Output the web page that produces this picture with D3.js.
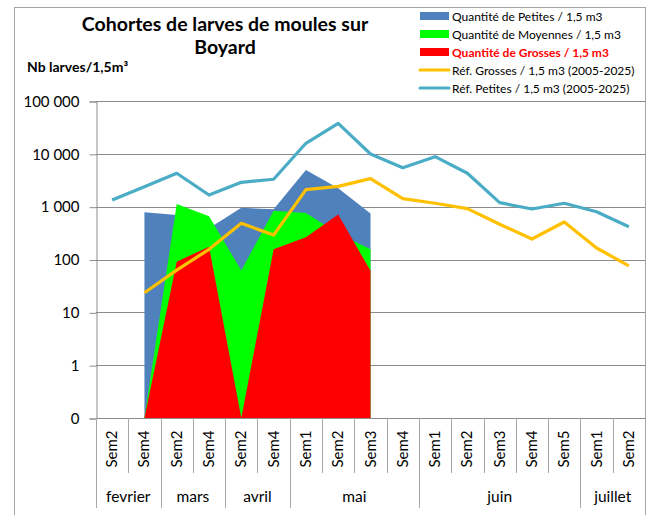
<!DOCTYPE html>
<html>
<head>
<meta charset="utf-8">
<script src="https://cdn.jsdelivr.net/npm/d3@7"></script>
<style>
  body { margin: 0; background: #fff; }
  svg { display: block; font-family: Lato, "Open Sans", sans-serif; }
</style>
</head>
<body>
<svg id="chart"></svg>
<script>
// semaines (categories) et mois
const weeks = ["Sem2","Sem4","Sem2","Sem4","Sem2","Sem4","Sem1","Sem2","Sem3","Sem4",
               "Sem1","Sem2","Sem3","Sem4","Sem5","Sem1","Sem2"];
const months = ["fevrier","mars","avril","mai","juin","juillet"];
const monthSpans = [2, 2, 2, 4, 5, 2];

// valeurs (null = pas de donnee)
const petites    = [null, 782, 697, 389, 950, 890, 4940, 2230, 740, null, null, null, null, null, null, null, null];
const moyennes   = [null, 0, 1125, 660, 62, 840, 760, 310, 156, null, null, null, null, null, null, null, null];
const grosses    = [null, 0, 91, 175, 0, 156, 265, 710, 61, null, null, null, null, null, null, null, null];
const refGrosses = [null, 23.5, 63, 156, 484, 290, 2100, 2420, 3400, 1415, 1160, 916, 465, 244, 513, 165, 76];
const refPetites = [1340, 2390, 4290, 1660, 2890, 3300, 15850, 37800, 9930, 5470, 8830, 4290, 1190, 904, 1160, 803, 418];

const yTicks = [0.1, 1, 10, 100, 1000, 10000, 100000];

const series = [
  {name: "Quantité de Petites / 1,5 m3", values: petites, color: "#4F81BD", type: "area"},
  {name: "Quantité de Moyennes / 1,5 m3", values: moyennes, color: "#00FF00", type: "area"},
  {name: "Quantité de Grosses / 1,5 m3", values: grosses, color: "#FF0000", type: "area", bold: true},
  {name: "Réf. Grosses / 1,5 m3 (2005-2025)", values: refGrosses, color: "#FFC000", type: "line"},
  {name: "Réf. Petites / 1,5 m3 (2005-2025)", values: refPetites, color: "#4BACC6", type: "line"}
];

const width = 651, height = 515;
const plotL = 96, plotR = 645, plotT = 101, plotB = 418;

const svg = d3.select("#chart").attr("width", width).attr("height", height);

// cadre exterieur
svg.append("rect")
   .attr("x", 14.5).attr("y", 7.5).attr("width", 631).attr("height", 520)
   .attr("fill", "none").attr("stroke", "#a6a6a6");

const x = d3.scaleBand().domain(d3.range(weeks.length)).range([plotL, plotR]);
const y = d3.scaleLog().domain([0.1, 100000]).range([plotB, plotT]);
const yv = v => y(Math.max(v, 0.1));
const cx = i => x(i) + x.bandwidth() / 2;

// grille
svg.append("g").selectAll("line")
   .data(yTicks).enter().append("line")
   .attr("x1", plotL).attr("x2", plotR)
   .attr("y1", d => Math.round(y(d)) + 0.5).attr("y2", d => Math.round(y(d)) + 0.5)
   .attr("stroke", "#8c8c8c").attr("stroke-width", 1);

// axe Y
const fmt = d3.format(",");
const yAxis = svg.append("g")
   .attr("transform", `translate(${plotL + 0.5},0.5)`)
   .call(d3.axisLeft(y).tickValues(yTicks).tickSize(7).tickPadding(10)
           .tickFormat(d => d < 1 ? "0" : fmt(d).replace(/,/g, " ")));
yAxis.select(".domain").attr("stroke", "#8c8c8c");
yAxis.selectAll(".tick line").attr("stroke", "#8c8c8c");
yAxis.selectAll("text").attr("font-size", 15).attr("font-family", "Lato").attr("fill", "#000");

// aires
const area = d3.area()
   .defined(d => d != null)
   .x((d, i) => cx(i))
   .y0(y(0.1))
   .y1(d => yv(d));

series.filter(s => s.type === "area").forEach(s => {
  svg.append("path").datum(s.values)
     .attr("d", area).attr("fill", s.color);
});

// lignes de reference
const line = d3.line()
   .defined(d => d != null)
   .x((d, i) => cx(i))
   .y(d => yv(d));

series.filter(s => s.type === "line").forEach(s => {
  svg.append("path").datum(s.values)
     .attr("d", line).attr("fill", "none")
     .attr("stroke", s.color).attr("stroke-width", 3.2).attr("stroke-linejoin", "round");
});

// axe X : separateurs semaines et mois
const xg = svg.append("g");
xg.append("line").attr("x1", plotL).attr("x2", plotR)
  .attr("y1", plotB + 0.5).attr("y2", plotB + 0.5).attr("stroke", "#8c8c8c");

const monthStarts = [0];
monthSpans.forEach(n => monthStarts.push(monthStarts[monthStarts.length - 1] + n));

d3.range(weeks.length + 1).forEach(k => {
  const px = Math.round(k < weeks.length ? x(k) : plotR) + 0.5;
  const isMonth = monthStarts.includes(k);
  xg.append("line")
    .attr("x1", px).attr("x2", px)
    .attr("y1", plotB).attr("y2", isMonth ? 508 : 473)
    .attr("stroke", "#a6a6a6");
});

xg.selectAll("text.week")
  .data(weeks).enter().append("text")
  .attr("class", "week")
  .attr("transform", (d, i) => `translate(${cx(i) + 5},449) rotate(-90)`)
  .attr("text-anchor", "middle")
  .attr("font-size", 15)
  .text(d => d);

xg.selectAll("text.month")
  .data(months).enter().append("text")
  .attr("class", "month")
  .attr("x", (d, i) => {
    const a = x(monthStarts[i]);
    const b = monthStarts[i + 1] < weeks.length ? x(monthStarts[i + 1]) : plotR;
    return (a + b) / 2;
  })
  .attr("y", 502)
  .attr("text-anchor", "middle")
  .attr("font-size", 15.5)
  .text(d => d);

// titres
svg.append("text").attr("x", 225).attr("y", 31)
   .attr("text-anchor", "middle").attr("font-weight", "bold").attr("font-size", 19.5)
   .text("Cohortes de larves de moules sur");
svg.append("text").attr("x", 225).attr("y", 54)
   .attr("text-anchor", "middle").attr("font-weight", "bold").attr("font-size", 19.5)
   .text("Boyard");
svg.append("text").attr("x", 27).attr("y", 72)
   .attr("font-weight", "bold").attr("font-size", 14)
   .text("Nb larves/1,5m³");

// legende
const leg = svg.append("g").selectAll("g")
   .data(series).enter().append("g")
   .attr("transform", (d, i) => `translate(420,${16 + i * 18})`);

leg.filter(d => d.type === "area").append("rect")
   .attr("x", 0).attr("y", -4).attr("width", 29).attr("height", 8)
   .attr("fill", d => d.color);
leg.filter(d => d.type === "line").append("line")
   .attr("x1", 0).attr("x2", 29).attr("y1", 0).attr("y2", 0)
   .attr("stroke", d => d.color).attr("stroke-width", 3).attr("stroke-linecap", "round");
leg.append("text")
   .attr("x", 32).attr("y", 4.5)
   .attr("font-size", 12)
   .attr("font-weight", d => d.bold ? "bold" : "normal")
   .attr("fill", d => d.bold ? "#FF0000" : "#000")
   .text(d => d.name);
</script>
</body>
</html>
